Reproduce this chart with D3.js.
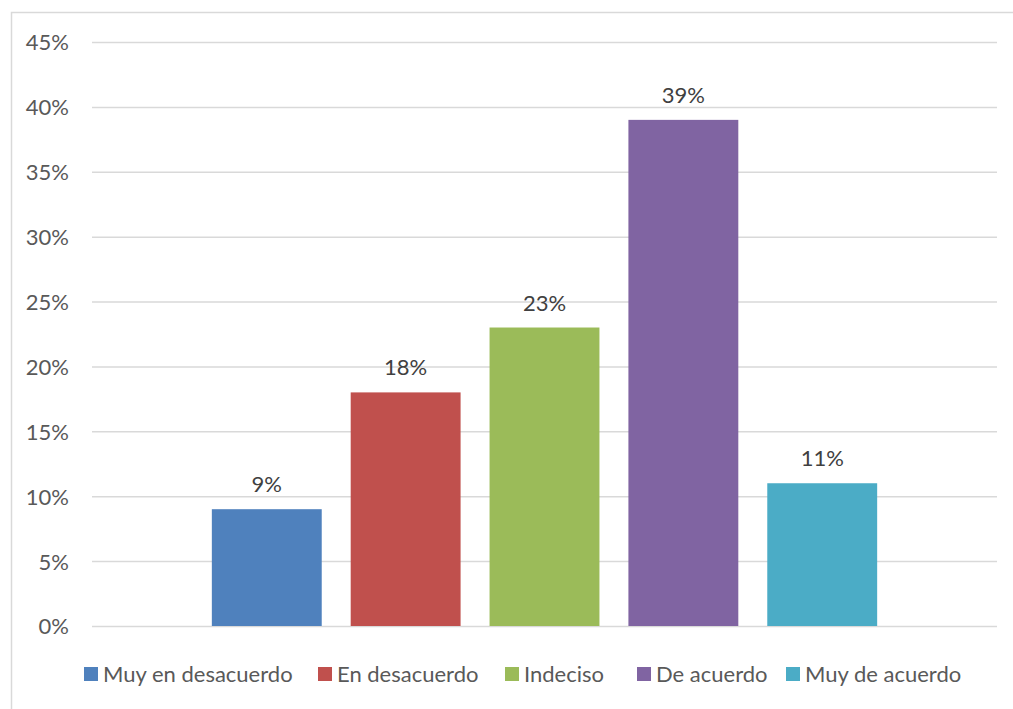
<!DOCTYPE html>
<html>
<head>
<meta charset="utf-8">
<script src="https://cdn.jsdelivr.net/npm/d3@7"></script>
<style>
  html, body { margin: 0; padding: 0; background: #fff; }
  svg { display: block; }
  text { font-family: Lato, "Open Sans", sans-serif; }
</style>
</head>
<body>
<svg id="chart" width="1013" height="709"></svg>
<script>
// ---- data ----
const seriesNames = ["Muy en desacuerdo", "En desacuerdo", "Indeciso", "De acuerdo", "Muy de acuerdo"];
const seriesValues = [9, 18, 23, 39, 11];
const seriesColors = ["#4f81bd", "#c0504d", "#9bbb59", "#8064a2", "#4bacc6"];
const yTicks = [0, 5, 10, 15, 20, 25, 30, 35, 40, 45];

// ---- layout ----
const W = 1013, H = 709;
const plot = { left: 92, right: 997, top: 42, bottom: 626 };
const legendX = [84, 318, 505, 637, 786];
const legendY = 674;
const fontSize = "22px";

const svg = d3.select("#chart");

// outer chart border (extends beyond window)
svg.append("rect")
  .attr("x", 11.5).attr("y", 12.5)
  .attr("width", 1030).attr("height", 730)
  .attr("fill", "#fff").attr("stroke", "#d9d9d9").attr("stroke-width", 1.5);

const y = d3.scaleLinear().domain([0, 45]).range([plot.bottom, plot.top]);
const x = d3.scaleBand().domain(seriesNames)
  .range([plot.left, plot.right])
  .paddingInner(0.2086).paddingOuter(0.863);

// gridlines + tick labels via axis
const yAxis = d3.axisLeft(y).tickValues(yTicks)
  .tickSize(-(plot.right - plot.left))
  .tickPadding(23)
  .tickFormat(d => d + "%");
const gy = svg.append("g")
  .attr("transform", `translate(${plot.left},0)`)
  .call(yAxis);
gy.select(".domain").remove();
gy.selectAll(".tick line").attr("stroke", "#d9d9d9").attr("stroke-width", 1.5);
gy.selectAll(".tick text")
  .attr("fill", "#595959")
  .style("font-size", fontSize)
  .attr("dy", "0.36em");

// bars
svg.append("g").selectAll("rect")
  .data(seriesNames)
  .join("rect")
  .attr("x", d => x(d))
  .attr("width", x.bandwidth())
  .attr("y", (d, i) => y(seriesValues[i]))
  .attr("height", (d, i) => y(0) - y(seriesValues[i]))
  .attr("fill", (d, i) => seriesColors[i]);

// data labels
svg.append("g").selectAll("text")
  .data(seriesNames)
  .join("text")
  .attr("x", d => x(d) + x.bandwidth() / 2)
  .attr("y", (d, i) => y(seriesValues[i]) - 17)
  .attr("text-anchor", "middle")
  .attr("fill", "#404040")
  .style("font-size", fontSize)
  .text((d, i) => seriesValues[i] + "%");

// legend
const lg = svg.append("g").selectAll("g")
  .data(seriesNames)
  .join("g")
  .attr("transform", (d, i) => `translate(${legendX[i]},${legendY})`);
lg.append("rect")
  .attr("x", 0).attr("y", -7)
  .attr("width", 14).attr("height", 14)
  .attr("fill", (d, i) => seriesColors[i]);
lg.append("text")
  .attr("x", 19).attr("y", 0)
  .attr("dy", "0.36em")
  .attr("fill", "#595959")
  .style("font-size", fontSize)
  .text(d => d);
</script>
</body>
</html>
